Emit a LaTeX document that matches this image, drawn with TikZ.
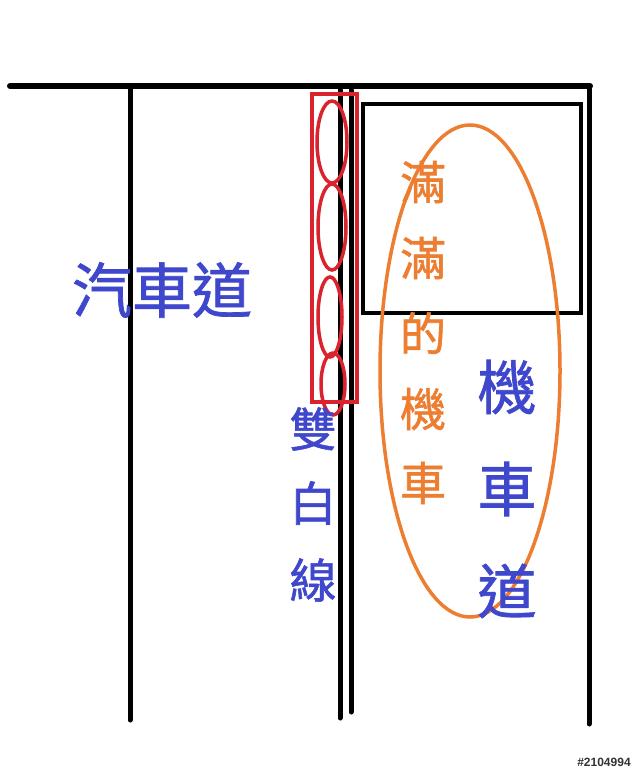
\documentclass[tikz,border=0pt]{standalone}
\usepackage{fontspec}
\usepackage{tikz}
\usetikzlibrary{calc}
\newfontfamily\tcfont[FakeBold=1.2]{Noto Sans CJK TC}
\newfontfamily\markfont{Liberation Sans}
\definecolor{laneblue}{RGB}{63,72,204}
\definecolor{bikeorange}{RGB}{237,125,49}
\definecolor{markred}{RGB}{218,35,45}
\tikzset{
	road/.style={line width=6pt, line cap=round},
	blue label/.style={text=laneblue, inner sep=0pt},
	orange label/.style={text=bikeorange, inner sep=0pt},
}

\begin{document}
\begin{tikzpicture}[x=1pt, y=-1pt]
		\useasboundingbox (0,0) rectangle (640,771);
		\coordinate (TL) at (10,86);
		\coordinate (TR) at (590,86);
		\coordinate (RB) at (589,724);
%
		\draw[road] (TL) -- (TR);
		\draw[road, line width=5pt] (589,88) -- (RB);
		\draw[road, line width=5pt] (130,88) -- (130,720);
		\draw[road, line width=5pt] (340,90) -- (340,718);
		\draw[road, line width=5pt] (351,90) -- (351,712);
%
		\node[draw, line width=4pt, minimum width=218pt, minimum height=209pt] (box) at (472,208.5) {};
%
		\node[draw=markred, line width=3.5pt, minimum width=45pt, minimum height=308pt] (marks) at (334.5,248) {};
		\path[draw=markred, line width=3.5pt]
			(332,142) ellipse [x radius=15, y radius=41]
			(332,227) ellipse [x radius=14, y radius=43]
			(330,317) ellipse [x radius=12, y radius=40]
			(333,384) ellipse [x radius=12, y radius=31];
%
		\draw[bikeorange, line width=3.5pt] (470,371) ellipse [x radius=90, y radius=246];
%
		\node[blue label, font=\tcfont\fontsize{60}{60}\selectfont] (car) at (162,290) {汽車道};
		\foreach \ch/\y in {雙/429, 白/503, 線/580}
			\node[blue label, font=\tcfont\fontsize{47}{47}\selectfont] at (313,\y) {\ch};
		\foreach \ch/\y in {滿/182, 滿/258, 的/333, 機/409, 車/483}
			\node[orange label, font=\tcfont\fontsize{46}{46}\selectfont] at (423,\y) {\ch};
		\foreach \ch/\y in {機/387, 車/489, 道/591}
			\node[blue label, font=\tcfont\fontsize{59}{59}\selectfont] at (507,\y) {\ch};
%
		\node[font=\markfont\bfseries\fontsize{12}{12}\selectfont, text=black!80, inner sep=0pt] (tag) at (604,762) {\#2104994};
	\end{tikzpicture}
\end{document}
